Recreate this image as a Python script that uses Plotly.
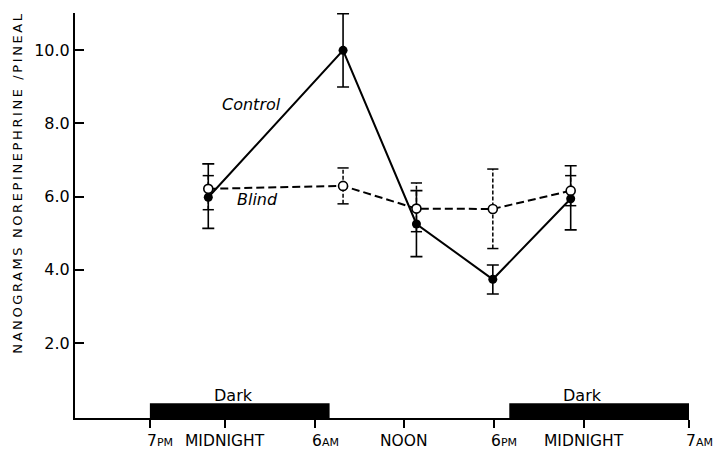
import plotly.graph_objects as go

# ---- data (hours from the previous noon; 19 = 7 PM, 24 = midnight, ...) ----
TIMES = [22.9, 31.9, 36.8, 41.9, 47.1]
CONTROL = [5.98, 9.99, 5.25, 3.74, 5.94]
CONTROL_ERR_PLUS = [0.91, 1.0, 0.91, 0.39, 0.90]
CONTROL_ERR_MINUS = [0.85, 1.0, 0.89, 0.40, 0.85]
BLIND = [6.21, 6.29, 5.67, 5.66, 6.16]
BLIND_ERR_PLUS = [0.36, 0.49, 0.70, 1.09, 0.41]
BLIND_ERR_MINUS = [0.57, 0.49, 0.63, 1.08, 0.41]

TICK_HOURS = [19, 24, 30, 36, 42, 48, 55]
TICK_NUM = ["7", "", "6", "", "6", "", "7"]
TICK_WORD = ["PM", "MIDNIGHT", "AM", "NOON", "PM", "MIDNIGHT", "AM"]
Y_TICKS = [2, 4, 6, 8, 10]
Y_TICK_TEXT = ["2.0", "4.0", "6.0", "8.0", "10.0"]

DARK_START = [19, 43]
DARK_END = [31, 55]
DARK_LABEL_X = [24.6, 47.9]
DARK_HEIGHT = 0.36

FONT = "DejaVu Sans"

fig = go.Figure()

# Blind error bars (dashed) built from the data
ex, ey, cx, cy = [], [], [], []
for t, v, p, m in zip(TIMES, BLIND, BLIND_ERR_PLUS, BLIND_ERR_MINUS):
    ex += [t, t, None]
    ey += [v - m, v + p, None]
    cx += [t, t]
    cy += [v - m, v + p]
fig.add_trace(go.Scatter(x=ex, y=ey, mode="lines",
                         line=dict(color="black", width=1.5, dash="4px,2px"),
                         hoverinfo="skip", showlegend=False))
fig.add_trace(go.Scatter(x=cx, y=cy, mode="markers",
                         marker=dict(symbol="line-ew", size=8,
                                     line=dict(color="black", width=1.5)),
                         hoverinfo="skip", showlegend=False))

# Control line with error bars
fig.add_trace(go.Scatter(
    x=TIMES, y=CONTROL, mode="lines+markers", name="Control",
    line=dict(color="black", width=2),
    marker=dict(symbol="circle", size=9, color="black"),
    error_y=dict(type="data", array=CONTROL_ERR_PLUS, arrayminus=CONTROL_ERR_MINUS,
                 symmetric=False, color="black", thickness=1.6, width=6),
    showlegend=False))

# Blind line
fig.add_trace(go.Scatter(
    x=TIMES, y=BLIND, mode="lines+markers", name="Blind",
    line=dict(color="black", width=2, dash="8px,4px"),
    marker=dict(symbol="circle", size=9, color="white",
                line=dict(color="black", width=1.6)),
    showlegend=False))

# Dark bars
for s, e in zip(DARK_START, DARK_END):
    fig.add_shape(type="rect", xref="x", yref="y", x0=s, x1=e, y0=-0.046, y1=DARK_HEIGHT,
                  fillcolor="black", line=dict(width=0), layer="above")
for lx in DARK_LABEL_X:
    fig.add_annotation(x=lx, y=DARK_HEIGHT, xref="x", yref="y", text="Dark",
                       showarrow=False, yanchor="bottom", yshift=-4,
                       font=dict(family=FONT, size=16, color="black"))

# Series labels
fig.add_annotation(x=25.8, y=8.5, text="<i>Control</i>", showarrow=False,
                   font=dict(family=FONT, size=16, color="black"))
fig.add_annotation(x=26.2, y=5.91, text="<i>Blind</i>", showarrow=False,
                   font=dict(family=FONT, size=16, color="black"))

# X tick labels
for h, n, w in zip(TICK_HOURS, TICK_NUM, TICK_WORD):
    if n:
        txt = n + "<span style='font-size:11px'>" + w + "</span>"
        fig.add_annotation(x=h, y=0, xref="x", yref="paper", text=txt, showarrow=False,
                           xanchor="left", xshift=-5, yanchor="middle", yshift=-23,
                           font=dict(family=FONT, size=15.5, color="black"))
    else:
        fig.add_annotation(x=h, y=0, xref="x", yref="paper", text=w, showarrow=False,
                           xanchor="center", yanchor="middle", yshift=-23,
                           font=dict(family=FONT, size=15.5, color="black"))

# Y axis title
fig.add_annotation(x=0, y=0.581, xref="paper", yref="paper",
                   text="<span style='letter-spacing:2.6px'>NANOGRAMS NOREPINEPHRINE /PINEAL</span>",
                   textangle=-90, showarrow=False, xanchor="center", yanchor="middle",
                   xshift=-57, font=dict(family=FONT, size=13, color="black"))

fig.update_layout(
    width=717, height=449,
    margin=dict(l=75, r=28, t=13, b=31),
    paper_bgcolor="white", plot_bgcolor="white",
    xaxis=dict(range=[14, 55], showgrid=False, zeroline=False,
               showline=True, linecolor="black", linewidth=1.5,
               tickmode="array", tickvals=TICK_HOURS, ticks="outside",
               ticklen=8, tickwidth=1.5, tickcolor="black", showticklabels=False),
    yaxis=dict(range=[-0.046, 11.01], showgrid=False, zeroline=False,
               showline=True, linecolor="black", linewidth=2,
               tickmode="array", tickvals=Y_TICKS, ticktext=Y_TICK_TEXT,
               ticks="inside", ticklen=9, tickwidth=1.5, tickcolor="black",
               tickfont=dict(family=FONT, size=16, color="black")),
)

fig.write_html("out.html")
